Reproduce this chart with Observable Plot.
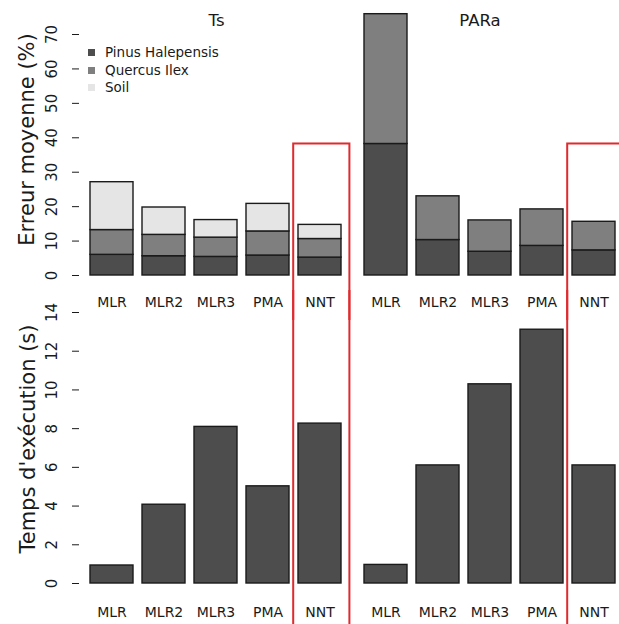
<!DOCTYPE html>
<html>
<head>
<meta charset="utf-8">
<script src="https://cdn.jsdelivr.net/npm/d3@7"></script>
<script src="https://cdn.jsdelivr.net/npm/@observablehq/plot@0.6"></script>
<style>
  html, body { margin: 0; padding: 0; background: #fff; overflow: hidden; }
  #wrap { position: relative; width: 619px; height: 624px; overflow: hidden; font-family: "DejaVu Sans", sans-serif; background: #fff; }
  #topPanel, #bottomPanel { position: absolute; left: 0; }
  #topPanel { top: 0; }
  #bottomPanel { top: 290px; }
  #legend { position: absolute; left: 88px; top: 44px; font-size: 13.5px; color: #1a1a1a; line-height: 17.5px; }
  #legend .sw { display: inline-block; width: 7px; height: 7px; margin-right: 10px; vertical-align: 1px; }
</style>
</head>
<body>
<div id="wrap">
  <div id="bottomPanel"></div>
  <div id="topPanel"></div>
  <div id="legend"></div>
</div>
<script>
// ---- data ----
const panels = ["Ts", "PARa"];
const methods = ["MLR", "MLR2", "MLR3", "PMA", "NNT"];
const species = ["Pinus Halepensis", "Quercus Ilex", "Soil"];
const speciesColors = ["#4d4d4d", "#7f7f7f", "#e5e5e5"];

// mean error (%) per species segment
const tsPinus    = [6.0, 5.6, 5.4, 5.8, 5.2];
const tsQuercus  = [7.2, 6.2, 5.6, 7.0, 5.4];
const tsSoil     = [13.9, 7.95, 5.1, 8.0, 4.1];
const paraPinus   = [38.2, 10.3, 6.9, 8.6, 7.3];
const paraQuercus = [37.7, 12.7, 9.1, 10.6, 8.3];
const paraSoil    = [0, 0, 0, 0, 0];

// execution time (s)
const timeTs   = [0.93, 4.07, 8.09, 5.02, 8.26];
const timePARa = [0.96, 6.1, 10.29, 13.11, 6.1];

const errorTicks = [0, 10, 20, 30, 40, 50, 60, 70];
const timeTicks = [0, 2, 4, 6, 8, 10, 12, 14];

const highlighted = "NNT";
const highlightTop = 38.2;

const yLabelTop = "Erreur moyenne (%)";
const yLabelBottom = "Temps d'exécution (s)";

// ---- tables ----
const errSeries = {
  Ts: [tsPinus, tsQuercus, tsSoil],
  PARa: [paraPinus, paraQuercus, paraSoil]
};
const errorRows = [];
for (const p of panels) methods.forEach((m, i) => species.forEach((s, k) => {
  const v = errSeries[p][k][i];
  if (v > 0) errorRows.push({panel: p, method: m, species: s, value: v});
}));
const timeSeries = {Ts: timeTs, PARa: timePARa};
const timeRows = [];
for (const p of panels) methods.forEach((m, i) => timeRows.push({panel: p, method: m, value: timeSeries[p][i]}));
const boxRows = panels.map(p => ({panel: p, method: highlighted}));

const W = 627;
const svgStyle = "background: transparent; overflow: hidden; max-width: none; font-family: 'DejaVu Sans', sans-serif; color: #1a1a1a;";
const xOpts = {domain: methods, paddingInner: 0.1667, paddingOuter: 0.194, align: 0.5};
const fxOpts = {domain: panels, padding: 0, axis: null};
const barStroke = "#1a1a1a";
const red = "#df2a2e";
const ink = "#1a1a1a";

const topChart = Plot.plot({
  width: W, height: 320,
  marginLeft: 78, marginRight: 0, marginTop: 34, marginBottom: 45,
  style: svgStyle,
  x: xOpts, fx: fxOpts,
  y: {domain: [0, 70]},
  color: {domain: species, range: speciesColors},
  marks: [
    Plot.axisY({ticks: errorTicks, tickRotate: -90, tickSize: 7, tickPadding: 16, fontSize: 15, line: true, label: null, stroke: ink, fill: ink}),
    Plot.axisX({tickSize: 0, tickPadding: 22, fontSize: 14, label: null, fill: ink}),
    Plot.barY(errorRows, {x: "method", y: "value", fx: "panel", fill: "species", stroke: barStroke, strokeWidth: 1.4}),
    Plot.barY(boxRows, {x: "method", fx: "panel", y1: highlightTop, y2: -25, fill: "none", stroke: red, strokeWidth: 2, insetLeft: -4.8, insetRight: -8.4}),
    Plot.text(panels.filter(p => p === "Ts"), {fx: d => d, text: d => d, frameAnchor: "top", lineAnchor: "middle", dy: -14, fontSize: 16.5, fill: ink}),
    Plot.text(panels.filter(p => p === "PARa"), {fx: d => d, text: d => d, frameAnchor: "top", lineAnchor: "middle", dx: -10.5, dy: -14, fontSize: 16.5, fill: ink}),
    Plot.text([yLabelTop], {fx: () => "Ts", text: d => d, frameAnchor: "left", textAnchor: "middle", lineAnchor: "middle", rotate: -90, dx: -52, dy: -15.5, fontSize: 21, fill: ink})
  ]
});
document.getElementById("topPanel").appendChild(topChart);

const bottomChart = Plot.plot({
  width: W, height: 334,
  marginLeft: 78, marginRight: 0, marginTop: 22, marginBottom: 41,
  style: svgStyle,
  x: xOpts, fx: fxOpts,
  y: {domain: [0, 14]},
  marks: [
    Plot.axisY({ticks: timeTicks, tickRotate: -90, tickSize: 7, tickPadding: 16, fontSize: 15, line: true, label: null, stroke: ink, fill: ink}),
    Plot.axisX({tickSize: 0, tickPadding: 24, fontSize: 14, label: null, fill: ink}),
    Plot.barY(timeRows, {x: "method", y: "value", fx: "panel", fill: speciesColors[0], stroke: barStroke, strokeWidth: 1.4}),
    Plot.barY(boxRows, {x: "method", fx: "panel", y1: 20, y2: -5, fill: "none", stroke: red, strokeWidth: 2, insetLeft: -4.8, insetRight: -8.4}),
    Plot.text([yLabelBottom], {fx: () => "Ts", text: d => d, frameAnchor: "left", textAnchor: "middle", lineAnchor: "middle", rotate: -90, dx: -51, dy: -9, fontSize: 21, fill: ink})
  ]
});
document.getElementById("bottomPanel").appendChild(bottomChart);

// legend
const lg = document.getElementById("legend");
species.forEach((s, k) => {
  const row = document.createElement("div");
  const sw = document.createElement("span");
  sw.className = "sw";
  sw.style.background = speciesColors[k];
  row.appendChild(sw);
  row.appendChild(document.createTextNode(s));
  lg.appendChild(row);
});
</script>
</body>
</html>
